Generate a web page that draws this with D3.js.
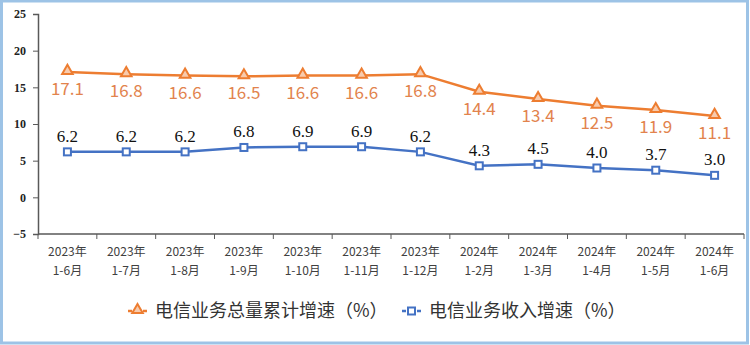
<!DOCTYPE html>
<html>
<head>
<meta charset="utf-8">
<script src="https://cdn.jsdelivr.net/npm/d3@7"></script>
<style>
  body { margin: 0; background: #fff; }
  svg { display: block; }
</style>
</head>
<body>
<div id="chart"></div>
<script>
// data
var years = ["2023年", "2023年", "2023年", "2023年", "2023年", "2023年", "2023年",
             "2024年", "2024年", "2024年", "2024年", "2024年"];
var months = ["1-6月", "1-7月", "1-8月", "1-9月", "1-10月", "1-11月", "1-12月",
              "1-2月", "1-3月", "1-4月", "1-5月", "1-6月"];
var volumeGrowth = [17.1, 16.8, 16.6, 16.5, 16.6, 16.6, 16.8, 14.4, 13.4, 12.5, 11.9, 11.1];
var revenueGrowth = [6.2, 6.2, 6.2, 6.8, 6.9, 6.9, 6.2, 4.3, 4.5, 4.0, 3.7, 3.0];
var yTicks = [-5, 0, 5, 10, 15, 20, 25];
var seriesNames = ["电信业务总量累计增速（%）", "电信业务收入增速（%）"];

var width = 750, height = 345;
var margin = { top: 14, right: 6, bottom: 111, left: 38 };
var orange = "#ED7D31", blue = "#4472C4";

var svg = d3.select("#chart").append("svg")
    .attr("width", width)
    .attr("height", height);

// light blue frame
svg.append("rect")
    .attr("x", 1.5).attr("y", 1).attr("width", width - 4).attr("height", height - 3)
    .attr("fill", "none")
    .attr("stroke", "#9DC3E6")
    .attr("stroke-width", 3);

var idx = d3.range(years.length);
var x = d3.scaleBand()
    .domain(idx)
    .range([margin.left, width - margin.right]);

var y = d3.scaleLinear()
    .domain([-5, 25])
    .range([height - margin.bottom, margin.top]);

var axisColor = "#595959";

// y axis
var yAxis = svg.append("g")
    .attr("transform", `translate(${margin.left},0)`)
    .call(d3.axisLeft(y).tickValues(yTicks).tickSize(5).tickPadding(7));
yAxis.select(".domain").attr("stroke", axisColor).attr("stroke-width", 1.5);
yAxis.selectAll(".tick line").attr("stroke", axisColor);
yAxis.selectAll("text")
    .style("font-family", "'Liberation Serif', 'DejaVu Serif', serif")
    .style("font-size", "12px")
    .style("font-weight", "bold")
    .attr("fill", "#222");

// x axis: ticks on band boundaries
var xAxisG = svg.append("g")
    .attr("transform", `translate(0,${y(-5)})`);
xAxisG.append("line")
    .attr("x1", x.range()[0]).attr("x2", x.range()[1])
    .attr("stroke", axisColor).attr("stroke-width", 1.5);
var bounds = d3.range(years.length + 1).map(function (i) {
    return i < years.length ? x(i) : x.range()[1];
});
xAxisG.selectAll(".bt")
    .data(bounds)
    .join("line")
    .attr("class", "bt")
    .attr("x1", function (d) { return d; })
    .attr("x2", function (d) { return d; })
    .attr("y1", 0).attr("y2", 5)
    .attr("stroke", axisColor);

var labelFont = "'Noto Sans CJK SC', 'Noto Sans', sans-serif";
var xl = svg.append("g");
xl.selectAll(".yr")
    .data(idx)
    .join("text")
    .attr("x", function (d) { return x(d) + x.bandwidth() / 2; })
    .attr("y", 256)
    .attr("text-anchor", "middle")
    .style("font-family", labelFont)
    .style("font-size", "12px")
    .attr("fill", "#404040")
    .text(function (d) { return years[d]; });
xl.selectAll(".mo")
    .data(idx)
    .join("text")
    .attr("x", function (d) { return x(d) + x.bandwidth() / 2; })
    .attr("y", 275)
    .attr("text-anchor", "middle")
    .style("font-family", labelFont)
    .style("font-size", "12px")
    .attr("fill", "#404040")
    .text(function (d) { return months[d]; });

var cx = function (i) { return x(i) + x.bandwidth() / 2; };

var line = d3.line()
    .x(function (d, i) { return cx(i); })
    .y(function (d) { return y(d); });

// orange series
svg.append("path")
    .datum(volumeGrowth)
    .attr("d", line)
    .attr("fill", "none")
    .attr("stroke", orange)
    .attr("stroke-width", 2.5);

var tri = d3.symbol().type(d3.symbolTriangle).size(48);
svg.selectAll(".tri")
    .data(volumeGrowth)
    .join("path")
    .attr("class", "tri")
    .attr("d", tri)
    .attr("transform", function (d, i) { return `translate(${cx(i)},${y(d) - 1})`; })
    .attr("fill", "#F8CBAD")
    .attr("stroke", orange)
    .attr("stroke-width", 2);

svg.selectAll(".vlab")
    .data(volumeGrowth)
    .join("text")
    .attr("class", "vlab")
    .attr("x", function (d, i) { return cx(i); })
    .attr("y", function (d) { return y(d) + 23; })
    .attr("text-anchor", "middle")
    .style("font-family", labelFont)
    .style("font-size", "17px")
    .attr("fill", "#E2834D")
    .text(function (d) { return d.toFixed(1); });

// blue series
svg.append("path")
    .datum(revenueGrowth)
    .attr("d", line)
    .attr("fill", "none")
    .attr("stroke", blue)
    .attr("stroke-width", 2.5);

svg.selectAll(".sq")
    .data(revenueGrowth)
    .join("rect")
    .attr("class", "sq")
    .attr("x", function (d, i) { return cx(i) - 3.5; })
    .attr("y", function (d) { return y(d) - 3.5; })
    .attr("width", 7).attr("height", 7)
    .attr("fill", "#fff")
    .attr("stroke", blue)
    .attr("stroke-width", 2);

svg.selectAll(".rlab")
    .data(revenueGrowth)
    .join("text")
    .attr("class", "rlab")
    .attr("x", function (d, i) { return cx(i); })
    .attr("y", function (d) { return y(d) - 10; })
    .attr("text-anchor", "middle")
    .style("font-family", "'Liberation Serif', 'DejaVu Serif', serif")
    .style("font-size", "17px")
    .attr("fill", "#111")
    .text(function (d) { return d.toFixed(1); });

// legend
var legend = svg.append("g");
var legendItems = [
    { name: seriesNames[0], color: orange, x: 128, shape: "tri" },
    { name: seriesNames[1], color: blue, x: 402, shape: "sq" }
];
legendItems.forEach(function (it) {
    var ly = 311;
    legend.append("line")
        .attr("x1", it.x).attr("x2", it.x + 19)
        .attr("y1", ly).attr("y2", ly)
        .attr("stroke", it.color).attr("stroke-width", 2.5)
        .attr("stroke-dasharray", "4,11,4");
    if (it.shape == "tri") {
        legend.append("path")
            .attr("d", tri)
            .attr("transform", `translate(${it.x + 9.5},${ly - 1})`)
            .attr("fill", "#F8CBAD")
            .attr("stroke", it.color).attr("stroke-width", 2);
    } else {
        legend.append("rect")
            .attr("x", it.x + 6).attr("y", ly - 3.5)
            .attr("width", 7).attr("height", 7)
            .attr("fill", "#fff")
            .attr("stroke", it.color).attr("stroke-width", 2);
    }
    legend.append("text")
        .attr("x", it.x + 27)
        .attr("y", ly + 6)
        .style("font-family", labelFont)
        .style("font-size", "18px")
        .attr("fill", "#333")
        .text(it.name);
});
</script>
</body>
</html>
